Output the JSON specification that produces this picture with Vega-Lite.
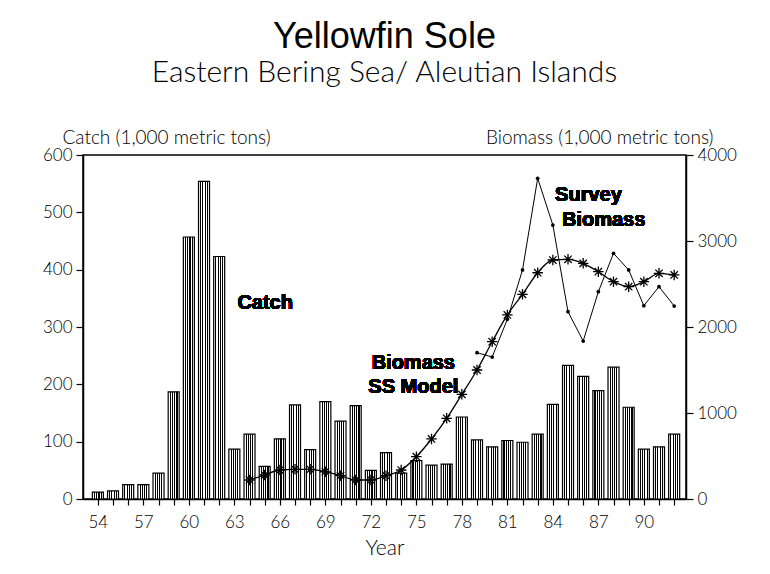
{
  "$schema": "https://vega.github.io/schema/vega-lite/v6.json",
  "width": 603,
  "height": 344,
  "autosize": "none",
  "padding": {"left": 83, "top": 155, "right": 84, "bottom": 75},
  "background": "white",
  "title": {
    "text": "Yellowfin Sole",
    "subtitle": "Eastern Bering Sea/ Aleutian Islands",
    "anchor": "middle",
    "font": "Liberation Sans",
    "fontSize": 36,
    "fontWeight": "normal",
    "color": "black",
    "subtitleFont": "Lato",
    "subtitleFontSize": 30,
    "subtitleFontWeight": 300,
    "subtitleColor": "black",
    "subtitlePadding": 2,
    "offset": 39
  },
  "config": {
    "view": {"stroke": "black", "strokeWidth": 1.5},
    "axis": {
      "domainColor": "black",
      "domainWidth": 1.5,
      "tickColor": "black",
      "tickWidth": 1.2,
      "labelColor": "black",
      "labelFont": "Lato",
      "labelFontWeight": 300,
      "labelFontSize": 17,
      "titleColor": "black",
      "titleFont": "Lato",
      "titleFontWeight": 300,
      "grid": false
    },
    "text": {"font": "Liberation Sans", "fontWeight": "bold", "fontSize": 20, "fill": "black"}
  },
  "data": {
    "values": [
      {"year": 54, "catch": 12, "ss": null, "survey": null},
      {"year": 55, "catch": 14, "ss": null, "survey": null},
      {"year": 56, "catch": 25, "ss": null, "survey": null},
      {"year": 57, "catch": 25, "ss": null, "survey": null},
      {"year": 58, "catch": 45, "ss": null, "survey": null},
      {"year": 59, "catch": 187, "ss": null, "survey": null},
      {"year": 60, "catch": 457, "ss": null, "survey": null},
      {"year": 61, "catch": 554, "ss": null, "survey": null},
      {"year": 62, "catch": 423, "ss": null, "survey": null},
      {"year": 63, "catch": 87, "ss": null, "survey": null},
      {"year": 64, "catch": 113, "ss": 221, "survey": null},
      {"year": 65, "catch": 57, "ss": 279, "survey": null},
      {"year": 66, "catch": 105, "ss": 337, "survey": null},
      {"year": 67, "catch": 164, "ss": 345, "survey": null},
      {"year": 68, "catch": 86, "ss": 345, "survey": null},
      {"year": 69, "catch": 170, "ss": 317, "survey": null},
      {"year": 70, "catch": 136, "ss": 271, "survey": null},
      {"year": 71, "catch": 163, "ss": 221, "survey": null},
      {"year": 72, "catch": 50, "ss": 221, "survey": null},
      {"year": 73, "catch": 81, "ss": 271, "survey": null},
      {"year": 74, "catch": 45, "ss": 337, "survey": null},
      {"year": 75, "catch": 67, "ss": 492, "survey": null},
      {"year": 76, "catch": 59, "ss": 698, "survey": null},
      {"year": 77, "catch": 61, "ss": 938, "survey": null},
      {"year": 78, "catch": 143, "ss": 1217, "survey": null},
      {"year": 79, "catch": 103, "ss": 1500, "survey": 1701},
      {"year": 80, "catch": 91, "ss": 1829, "survey": 1651},
      {"year": 81, "catch": 102, "ss": 2140, "survey": 2090},
      {"year": 82, "catch": 99, "ss": 2380, "survey": 2663},
      {"year": 83, "catch": 113, "ss": 2631, "survey": 3729},
      {"year": 84, "catch": 165, "ss": 2779, "survey": 3186},
      {"year": 85, "catch": 233, "ss": 2787, "survey": 2178},
      {"year": 86, "catch": 214, "ss": 2740, "survey": 1837},
      {"year": 87, "catch": 189, "ss": 2643, "survey": 2410},
      {"year": 88, "catch": 230, "ss": 2527, "survey": 2857},
      {"year": 89, "catch": 160, "ss": 2469, "survey": 2663},
      {"year": 90, "catch": 87, "ss": 2527, "survey": 2248},
      {"year": 91, "catch": 91, "ss": 2624, "survey": 2469},
      {"year": 92, "catch": 113, "ss": 2605, "survey": 2244}
    ]
  },
  "encoding": {
    "x": {
      "field": "year",
      "type": "quantitative",
      "scale": {"domain": [53.35, 92.45], "nice": false, "zero": false},
      "axis": {
        "values": [54,55,56,57,58,59,60,61,62,63,64,65,66,67,68,69,70,71,72,73,74,75,76,77,78,79,80,81,82,83,84,85,86,87,88,89,90,91,92],
        "labelExpr": "(datum.value - 54) % 3 == 0 ? datum.value : ''",
        "labelOverlap": false,
        "labelFlush": false,
        "tickSize": 6,
        "labelPadding": 9,
        "title": "Year",
        "titleFontSize": 21,
        "titlePadding": 7
      }
    }
  },
  "layer": [
    {
      "layer": [
        {
          "mark": {
            "type": "bar",
            "width": 11,
            "stroke": "black",
            "strokeWidth": 1.2,
            "fill": {
              "gradient": "linear",
              "x1": 0, "y1": 0, "x2": 1, "y2": 0,
              "stops": [
                {"offset": 0, "color": "white"},
                {"offset": 0.15, "color": "white"},
                {"offset": 0.15, "color": "black"},
                {"offset": 0.25, "color": "black"},
                {"offset": 0.25, "color": "white"},
                {"offset": 0.35, "color": "white"},
                {"offset": 0.35, "color": "black"},
                {"offset": 0.45, "color": "black"},
                {"offset": 0.45, "color": "white"},
                {"offset": 0.55, "color": "white"},
                {"offset": 0.55, "color": "black"},
                {"offset": 0.65, "color": "black"},
                {"offset": 0.65, "color": "white"},
                {"offset": 0.75, "color": "white"},
                {"offset": 0.75, "color": "black"},
                {"offset": 0.85, "color": "black"},
                {"offset": 0.85, "color": "white"},
                {"offset": 1, "color": "white"}
              ]
            }
          },
          "encoding": {
            "y": {
              "field": "catch",
              "type": "quantitative",
              "scale": {"domain": [0, 600], "nice": false},
              "axis": {
                "orient": "left",
                "values": [0, 100, 200, 300, 400, 500, 600],
                "tickSize": 7,
                "labelPadding": 4,
                "title": "Catch (1,000 metric tons)",
                "titleAngle": 0,
                "titleX": -21,
                "titleY": -18,
                "titleAlign": "left",
                "titleBaseline": "middle",
                "titleFontSize": 19
              }
            }
          }
        },
        {
          "mark": {"type": "text", "text": "Catch", "align": "left", "baseline": "middle"},
          "encoding": {
            "x": {"datum": 63.2, "type": "quantitative"},
            "y": {"datum": 342, "type": "quantitative"}
          }
        }
      ]
    },
    {
      "layer": [
        {
          "mark": {"type": "line", "interpolate": "monotone", "color": "black", "strokeWidth": 1.3},
          "encoding": {
            "y": {
              "field": "ss",
              "type": "quantitative",
              "scale": {"domain": [0, 4000], "nice": false},
              "axis": {
                "orient": "right",
                "values": [0, 1000, 2000, 3000, 4000],
                "format": "d",
                "tickSize": 7,
                "labelPadding": 4,
                "title": "Biomass (1,000 metric tons)",
                "titleAngle": 0,
                "titleX": 27,
                "titleY": -18,
                "titleAlign": "right",
                "titleBaseline": "middle",
                "titleFontSize": 19
              }
            }
          }
        },
        {
          "mark": {"type": "point", "shape": "M0,-1L0,1M-1,0L1,0M-0.7,-0.7L0.7,0.7M-0.7,0.7L0.7,-0.7", "filled": false, "stroke": "black", "strokeWidth": 1.3, "size": 110, "opacity": 1},
          "encoding": {
            "y": {"field": "ss", "type": "quantitative"}
          }
        },
        {
          "mark": {"type": "line", "interpolate": "linear", "color": "black", "strokeWidth": 1},
          "encoding": {
            "y": {"field": "survey", "type": "quantitative"}
          }
        },
        {
          "mark": {"type": "circle", "color": "black", "size": 14, "opacity": 1},
          "encoding": {
            "y": {"field": "survey", "type": "quantitative"}
          }
        },
        {
          "mark": {"type": "text", "text": "Biomass", "align": "center", "baseline": "middle"},
          "encoding": {
            "x": {"datum": 74.8, "type": "quantitative"},
            "y": {"datum": 1581, "type": "quantitative"}
          }
        },
        {
          "mark": {"type": "text", "text": "SS Model", "align": "center", "baseline": "middle"},
          "encoding": {
            "x": {"datum": 74.8, "type": "quantitative"},
            "y": {"datum": 1302, "type": "quantitative"}
          }
        },
        {
          "mark": {"type": "text", "text": "Survey", "align": "left", "baseline": "middle"},
          "encoding": {
            "x": {"datum": 84.15, "type": "quantitative"},
            "y": {"datum": 3535, "type": "quantitative"}
          }
        },
        {
          "mark": {"type": "text", "text": "Biomass", "align": "left", "baseline": "middle"},
          "encoding": {
            "x": {"datum": 84.6, "type": "quantitative"},
            "y": {"datum": 3244, "type": "quantitative"}
          }
        }
      ]
    }
  ],
  "resolve": {"scale": {"y": "independent"}}
}
